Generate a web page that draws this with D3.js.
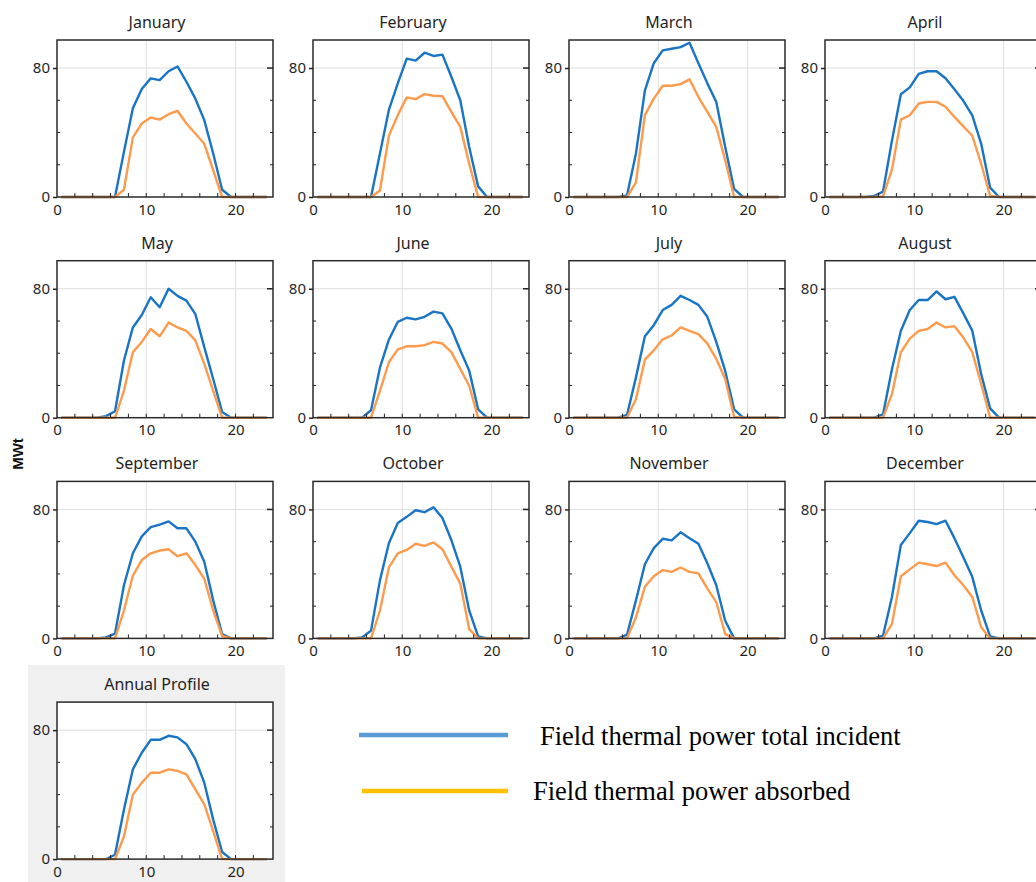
<!DOCTYPE html>
<html>
<head>
<meta charset="utf-8">
<script src="https://cdn.jsdelivr.net/npm/d3@7/dist/d3.min.js"></script>
<style>
  html, body { margin: 0; padding: 0; background: #fff; }
  svg { display: block; }
  .tick-label { font-family: "Noto Sans", sans-serif; font-size: 15px; fill: #1f1f24; }
  .panel-title { font-family: "Noto Sans", sans-serif; font-size: 16px; fill: #1f1f24; }
  .legend-text { font-family: "Liberation Serif", "Times New Roman", serif; font-size: 26.5px; fill: #000; }
</style>
</head>
<body>
<svg id="chart" width="1036" height="882"></svg>
<script>
// Hour of day at the middle of each hourly bin
const hours = d3.range(24).map(h => h + 0.5);

const panelTitles = ["January", "February", "March", "April", "May", "June",
  "July", "August", "September", "October", "November", "December", "Annual Profile"];

const seriesNames = ["Field thermal power total incident", "Field thermal power absorbed"];

const yTickLabels = [0, 80];
const xTickLabels = [0, 10, 20];

// Field thermal power total incident (MWt), average day per month
const incJan = [0,0,0,0,0,0, 0,28,55,67,73.6,72.5,78,81,71.5,61,47.7,27,4.5,0, 0,0,0,0];
const incFeb = [0,0,0,0,0,0, 0,27,54,70.5,85.8,84.6,89.5,87.5,88.3,74.6,60,31,6.6,0, 0,0,0,0];
const incMar = [0,0,0,0,0,0, 1,27,66,83,91,92,93,95.7,83,70.5,59,31,5,0, 0,0,0,0];
const incApr = [0,0,0,0,0,0.6, 3.3,35,63.7,68,76.4,78,78,73.7,66.8,59.7,50.7,33,5.8,0, 0,0,0,0];
const incMay = [0,0,0,0,0,1, 4,35.5,56,63.7,74.7,68.5,80,75.6,72.6,64.3,43.8,24,3.5,0, 0,0,0,0];
const incJun = [0,0,0,0,0,0, 4.6,31,48.4,59.5,62,61,62.6,65.8,64.7,55.3,41.8,29.2,5.2,0, 0,0,0,0];
const incJul = [0,0,0,0,0,0, 1.7,25,50.5,57.4,66.8,70,75.6,73,70,62.6,47,29,5.2,0, 0,0,0,0];
const incAug = [0,0,0,0,0,0, 2,30,54,66.8,73,73,78.3,73.5,75,64.7,54,27,5.8,0, 0,0,0,0];
const incSep = [0,0,0,0,0,0.6, 3,33,52.8,63.3,69,70.6,72.6,68.3,68.3,60,47.6,23.6,2.7,0, 0,0,0,0];
const incOct = [0,0,0,0,0,0.6, 4.8,36,59,71.6,75.4,79.5,78.3,81.4,74.7,61,44.5,17.3,1.3,0, 0,0,0,0];
const incNov = [0,0,0,0,0,0, 2.3,23.6,46,56,61.8,60.8,65.8,62.2,58.7,46.6,33,11,0,0, 0,0,0,0];
const incDec = [0,0,0,0,0,0, 1.7,25.7,58,65.3,73,72.2,70.9,73,62.2,50.3,38.2,17.3,1.3,0, 0,0,0,0];
const incAnnual = [0,0,0,0,0,0, 2.7,30.8,55.7,66,74,74,76.5,75.5,71.3,62,47.4,24.5,4.4,0, 0,0,0,0];

// Field thermal power absorbed (MWt), average day per month
const absJan = [0,0,0,0,0,0, 0,4.5,37,45.6,49.3,48,51.4,53.5,45.6,39.4,33,16.6,0,0, 0,0,0,0];
const absFeb = [0,0,0,0,0,0, 0,4,38,50.8,61.8,60.7,63.8,62.8,62.6,52.8,43.5,20.7,0,0, 0,0,0,0];
const absMar = [0,0,0,0,0,0, 0,9,50.8,61,69,69,70,73,62,52.8,43.5,22.8,0,0, 0,0,0,0];
const absApr = [0,0,0,0,0,0, 0.4,17,48,50.7,58,59,59,56,49.7,43.8,38,20.5,0.6,0, 0,0,0,0];
const absMay = [0,0,0,0,0,0, 0,16.7,40.7,47,55,50.5,59,56,53.9,48,33.4,16.7,0,0, 0,0,0,0];
const absJun = [0,0,0,0,0,0, 0,16.7,34.4,42.4,44.3,44.3,45,47,46,40.7,30.3,19.8,0,0, 0,0,0,0];
const absJul = [0,0,0,0,0,0, 0,11.5,36,41.8,48.6,51,56,53.9,51.8,46,36.5,24,0.5,0, 0,0,0,0];
const absAug = [0,0,0,0,0,0, 0,14.6,40.7,49,53.9,55,59,56,56.8,49.7,40.7,20.9,0,0, 0,0,0,0];
const absSep = [0,0,0,0,0,0, 0,17.3,39,48.6,52.8,54.5,55.3,51,52.8,45.5,37,17.3,1.5,0, 0,0,0,0];
const absOct = [0,0,0,0,0,0, 0,17.3,44,52.8,54.9,58.7,57.4,59.5,55.3,44.5,34,5.8,0,0, 0,0,0,0];
const absNov = [0,0,0,0,0,0, 0,13,32,38.6,42.4,41.3,44,41.3,40.3,30.9,22.5,2.7,0,0, 0,0,0,0];
const absDec = [0,0,0,0,0,0, 0,9,38.6,42.8,47,46,44.9,47,39.2,33,25.7,6.9,0,0, 0,0,0,0];
const absAnnual = [0,0,0,0,0,0, 0,14,40,47.4,53.6,53.6,55.7,54.7,52.6,43.2,33.9,17.3,0,0, 0,0,0,0];

const incidentSeries = [incJan, incFeb, incMar, incApr, incMay, incJun, incJul, incAug, incSep, incOct, incNov, incDec, incAnnual];
const absorbedSeries = [absJan, absFeb, absMar, absApr, absMay, absJun, absJul, absAug, absSep, absOct, absNov, absDec, absAnnual];

// Layout of the small-multiple grid
const cellW = 256, cellH = 220.7, gridX = 29, gridY = 3;
const boxOffX = 28, boxOffY = 37, boxW = 216, boxH = 157;
const lineColors = ["#1a74c6", "#fd9a4c"];
const legendColors = ["#5b9bd5", "#ffc000"];

const svg = d3.select("#chart");

const x = d3.scaleLinear().domain([0, 24.2]).range([0, boxW]);
const y = d3.scaleLinear().domain([0, 97.4]).range([boxH, 0]);

const line = d3.line()
  .x((d, i) => x(hours[i]))
  .y(d => y(d));

panelTitles.forEach((title, k) => {
  const col = k % 4, row = Math.floor(k / 4);
  const cx = gridX + col * cellW, cy = gridY + row * cellH;
  const cell = svg.append("g").attr("transform", `translate(${cx},${cy})`);

  if (title === "Annual Profile") {
    cell.append("rect")
      .attr("x", -1).attr("y", 0)
      .attr("width", 257).attr("height", 230)
      .attr("fill", "#f0f0f0");
  }

  cell.append("text")
    .attr("class", "panel-title")
    .attr("x", cellW / 2).attr("y", 25)
    .attr("text-anchor", "middle")
    .text(title);

  const g = cell.append("g").attr("transform", `translate(${boxOffX},${boxOffY})`);

  g.append("rect")
    .attr("width", boxW).attr("height", boxH)
    .attr("fill", "#fff");

  // light grid
  g.append("g").selectAll("line")
    .data([10, 20]).join("line")
    .attr("x1", d => x(d)).attr("x2", d => x(d))
    .attr("y1", 0).attr("y2", boxH)
    .attr("stroke", "#dedede").attr("stroke-width", 1);
  g.append("g").selectAll("line")
    .data([80]).join("line")
    .attr("x1", 0).attr("x2", boxW)
    .attr("y1", d => y(d)).attr("y2", d => y(d))
    .attr("stroke", "#dedede").attr("stroke-width", 1);

  // series lines
  [incidentSeries[k], absorbedSeries[k]].forEach((vals, s) => {
    g.append("path")
      .datum(vals)
      .attr("d", line)
      .attr("fill", "none")
      .attr("stroke", lineColors[s])
      .attr("stroke-width", 2.4)
      .attr("stroke-linejoin", "round");
  });

  // minor inward ticks
  const yMinor = [20, 40, 60];
  g.append("g").selectAll("line").data(yMinor).join("line")
    .attr("x1", 0).attr("x2", 3).attr("y1", d => y(d)).attr("y2", d => y(d))
    .attr("stroke", "#222");
  g.append("g").selectAll("line").data(yMinor).join("line")
    .attr("x1", boxW - 3).attr("x2", boxW).attr("y1", d => y(d)).attr("y2", d => y(d))
    .attr("stroke", "#222");
  g.append("g").selectAll("line").data([80]).join("line")
    .attr("x1", boxW - 6).attr("x2", boxW).attr("y1", d => y(d)).attr("y2", d => y(d))
    .attr("stroke", "#222").attr("stroke-width", 1.5);
  g.append("g").selectAll("line").data(d3.range(2, 24, 2)).join("line")
    .attr("x1", d => x(d)).attr("x2", d => x(d)).attr("y1", boxH).attr("y2", boxH - 4)
    .attr("stroke", "#222");

  // left axis with labelled ticks
  const yAxis = d3.axisLeft(y).tickValues(yTickLabels).tickSize(4).tickPadding(3).tickFormat(d3.format("d"));
  const ya = g.append("g").call(yAxis);
  ya.select(".domain").remove();
  ya.selectAll(".tick line").attr("stroke", "#222").attr("stroke-width", 1.5);
  ya.selectAll(".tick text").attr("class", "tick-label").attr("font-family", null).attr("font-size", null).attr("fill", null);

  // bottom axis labels
  const xAxis = d3.axisBottom(x).tickValues(xTickLabels).tickSize(0).tickPadding(7).tickFormat(d3.format("d"));
  const xa = g.append("g").attr("transform", `translate(0,${boxH})`).call(xAxis);
  xa.select(".domain").remove();
  xa.selectAll(".tick text").attr("class", "tick-label").attr("font-family", null).attr("font-size", null).attr("fill", null);

  // frame
  g.append("rect")
    .attr("width", boxW).attr("height", boxH)
    .attr("fill", "none")
    .attr("stroke", "#2a2a2a").attr("stroke-width", 1.5);
});

// y-axis unit
svg.append("text")
  .attr("transform", "translate(23,454) rotate(-90)")
  .attr("text-anchor", "middle")
  .attr("font-family", "Liberation Sans, Arial, sans-serif")
  .attr("font-weight", "bold")
  .attr("font-size", 15)
  .attr("fill", "#111")
  .text("MWt");

// legend
const legendRows = [
  { y: 735, x1: 359, x2: 508, tx: 540, ty: 745 },
  { y: 791, x1: 362, x2: 508, tx: 533, ty: 800 }
];
seriesNames.forEach((name, i) => {
  const r = legendRows[i];
  svg.append("line")
    .attr("x1", r.x1).attr("x2", r.x2).attr("y1", r.y).attr("y2", r.y)
    .attr("stroke", legendColors[i]).attr("stroke-width", 4.5);
  svg.append("text")
    .attr("class", "legend-text")
    .attr("x", r.tx).attr("y", r.ty)
    .text(name);
});
</script>
</body>
</html>
